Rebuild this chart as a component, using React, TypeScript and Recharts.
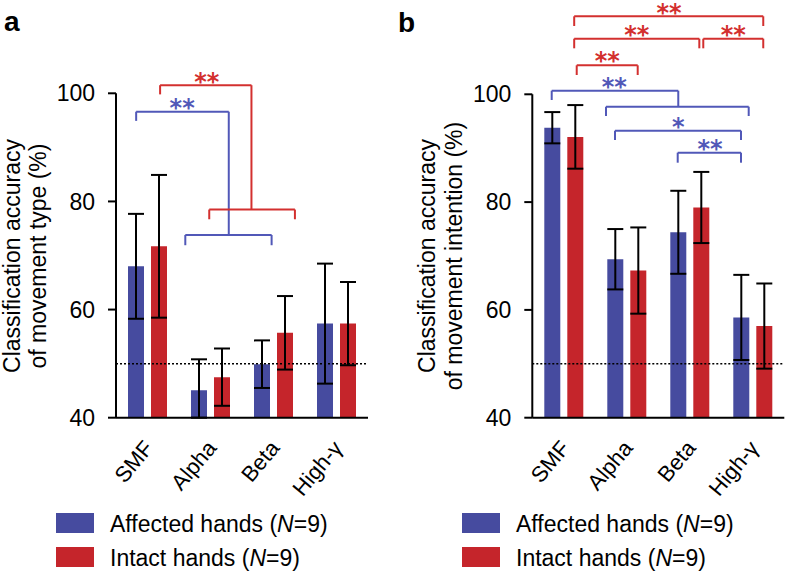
import React from "react"
import {
  Bar,
  BarChart,
  ErrorBar,
  ReferenceDot,
  ReferenceLine,
  XAxis,
  YAxis,
} from "recharts"

const categories = ["SMF", "Alpha", "Beta", "High-γ"]
const categoryPos = [0.5, 1.5, 2.5, 3.5]
const yTicks = [40, 60, 80, 100]

// panel a: movement type
const typeAffected = [68.0, 45.1, 49.9, 57.4]
const typeAffectedErr: (number | number[])[] = [9.7, [5.1, 5.7], 4.4, 11.1]
const typeIntact = [71.7, 47.5, 55.7, 57.4]
const typeIntactErr = [13.2, 5.3, 6.8, 7.7]

// panel b: movement intention
const intentAffected = [93.8, 69.4, 74.4, 58.6]
const intentAffectedErr = [2.9, 5.6, 7.7, 7.9]
const intentIntact = [92.1, 67.3, 79.0, 57.0]
const intentIntactErr = [5.9, 8.0, 6.6, 7.9]

const BLUE = "#464b9f"
const RED = "#c5252b"
const BLUE_LINE = "#5158b8"
const RED_LINE = "#d3302f"
const FONT = "'Liberation Sans', Arial, Helvetica, sans-serif"

// significance brackets, x in category units (0..4), y in % units
type Bracket = { c: string; x1: number; x2: number; y: number; d1: number; d2: number }
type Star = { c: string; x: number; y: number; t: string }

const bracketsA: Bracket[] = [
  { c: BLUE_LINE, x1: 0.32, x2: 1.79, y: 96.6, d1: 94.9, d2: 73.8 },
  { c: BLUE_LINE, x1: 1.1, x2: 2.47, y: 73.8, d1: 71.9, d2: 71.9 },
  { c: RED_LINE, x1: 0.7, x2: 2.15, y: 101.5, d1: 99.8, d2: 78.5 },
  { c: RED_LINE, x1: 1.48, x2: 2.84, y: 78.5, d1: 76.7, d2: 76.7 },
]
const starsA: Star[] = [
  { c: BLUE_LINE, x: 1.05, y: 98.4, t: "**" },
  { c: RED_LINE, x: 1.44, y: 103.2, t: "**" },
]

const bracketsB: Bracket[] = [
  { c: RED_LINE, x1: 0.665, x2: 3.666, y: 114.47, d1: 112.67, d2: 112.67 },
  { c: RED_LINE, x1: 0.665, x2: 2.651, y: 110.32, d1: 108.53, d2: 108.53 },
  { c: RED_LINE, x1: 2.714, x2: 3.666, y: 110.32, d1: 108.53, d2: 108.53 },
  { c: RED_LINE, x1: 0.705, x2: 1.673, y: 105.38, d1: 103.58, d2: 103.58 },
  { c: BLUE_LINE, x1: 0.308, x2: 2.317, y: 100.67, d1: 98.94, d2: 97.7 },
  { c: BLUE_LINE, x1: 1.17, x2: 3.435, y: 97.7, d1: 95.97, d2: 95.97 },
  { c: BLUE_LINE, x1: 1.313, x2: 3.313, y: 93.25, d1: 91.52, d2: 91.52 },
  { c: BLUE_LINE, x1: 2.308, x2: 3.313, y: 89.17, d1: 87.31, d2: 87.31 },
]
const starsB: Star[] = [
  { c: RED_LINE, x: 2.17, y: 116.25, t: "**" },
  { c: RED_LINE, x: 1.66, y: 112.1, t: "**" },
  { c: RED_LINE, x: 3.19, y: 112.1, t: "**" },
  { c: RED_LINE, x: 1.19, y: 107.2, t: "**" },
  { c: BLUE_LINE, x: 1.3, y: 102.5, t: "**" },
  { c: BLUE_LINE, x: 2.317, y: 95.1, t: "*" },
  { c: BLUE_LINE, x: 2.82, y: 90.9, t: "**" },
]

const buildData = (aff: number[], affErr: any[], int: number[], intErr: any[]) =>
  categories.map((name, i) => ({
    name,
    pos: categoryPos[i],
    affected: aff[i],
    affectedErr: affErr[i],
    intact: int[i],
    intactErr: intErr[i],
  }))

const XTick = ({ x, y, payload }: any) => (
  <g transform={`translate(${x + 7},${y + 31})`}>
    <text
      transform="rotate(-50)"
      textAnchor="end"
      fontSize={22}
      fontFamily={FONT}
      fill="#000"
    >
      {payload.value}
    </text>
  </g>
)

const YLabel = ({ lines, xs }: { lines: string[]; xs: number[] }) => {
  const cy = 256
  return (
    <g>
      {lines.map((l, i) => (
        <text
          key={i}
          transform={`translate(${xs[i]},${cy}) rotate(-90)`}
          textAnchor="middle"
          fontSize={23}
          fontFamily={FONT}
          fill="#000"
        >
          {l}
        </text>
      ))}
    </g>
  )
}

function Panel({
  data,
  left,
  width,
  yAxisWidth,
  right,
  top,
  labelLines,
  labelXs,
  brackets,
  stars,
}: any) {
  return (
    <div style={{ position: "absolute", left, top: 0 }}>
      <BarChart
        width={width}
        height={573}
        data={data}
        margin={{ top, right, bottom: 125.3, left: 0 }}
        barSize={16}
        barGap={7}
      >
        <XAxis
          xAxisId="cat"
          dataKey="name"
          height={30}
          tickLine={false}
          tickSize={0}
          tickMargin={0}
          axisLine={{ stroke: "#000", strokeWidth: 2 }}
          tick={<XTick />}
          interval={0}
        />
        <XAxis
          xAxisId="num"
          dataKey="pos"
          type="number"
          domain={[0, 4]}
          hide
          allowDataOverflow
        />
        <YAxis
          domain={[40, 100]}
          ticks={yTicks}
          allowDataOverflow
          width={yAxisWidth}
          tickSize={8}
          tickMargin={13}
          axisLine={{ stroke: "#000", strokeWidth: 2 }}
          tickLine={{ stroke: "#000", strokeWidth: 2 }}
          tick={{ fill: "#000", fontSize: 23, fontFamily: FONT }}
          label={<YLabel lines={labelLines} xs={labelXs} />}
        />
        <Bar xAxisId="cat" dataKey="affected" fill={BLUE} isAnimationActive={false}>
          <ErrorBar dataKey="affectedErr" width={8} strokeWidth={2} stroke="#000" direction="y" />
        </Bar>
        <Bar xAxisId="cat" dataKey="intact" fill={RED} isAnimationActive={false}>
          <ErrorBar dataKey="intactErr" width={8} strokeWidth={2} stroke="#000" direction="y" />
        </Bar>
        <ReferenceLine
          xAxisId="num"
          y={50}
          stroke="#000"
          strokeWidth={1.5}
          strokeDasharray="2 2"
          ifOverflow="visible"
        />
        {brackets.map((b: Bracket, i: number) => [
          <ReferenceLine
            key={`l${i}`}
            xAxisId="num"
            segment={[{ x: b.x1, y: b.d1 }, { x: b.x1, y: b.y }]}
            stroke={b.c}
            strokeWidth={2}
            ifOverflow="visible"
          />,
          <ReferenceLine
            key={`h${i}`}
            xAxisId="num"
            segment={[{ x: b.x1, y: b.y }, { x: b.x2, y: b.y }]}
            stroke={b.c}
            strokeWidth={2}
            ifOverflow="visible"
          />,
          <ReferenceLine
            key={`r${i}`}
            xAxisId="num"
            segment={[{ x: b.x2, y: b.y }, { x: b.x2, y: b.d2 }]}
            stroke={b.c}
            strokeWidth={2}
            ifOverflow="visible"
          />,
        ])}
        {stars.map((s: Star, i: number) => (
          <ReferenceDot
            key={`s${i}`}
            xAxisId="num"
            x={s.x}
            y={s.y}
            r={0}
            ifOverflow="visible"
            shape={(p: any) => (
              <text
                x={p.cx}
                y={p.cy + 14}
                textAnchor="middle"
                fontSize={24}
                fontWeight="bold"
                fontFamily="'DejaVu Sans', sans-serif"
                fill={s.c}
              >
                {s.t}
              </text>
            )}
          />
        ))}
      </BarChart>
    </div>
  )
}

const LegendBox = ({ left, textLeft }: { left: number; textLeft: number }) => (
  <>
    {[
      { c: BLUE, t: "Affected hands", top: 513 },
      { c: RED, t: "Intact hands", top: 547 },
    ].map((r) => (
      <div key={r.t}>
        <div
          style={{ position: "absolute", left, top: r.top, width: 38, height: 20, background: r.c }}
        />
        <div
          style={{
            position: "absolute",
            left: textLeft,
            top: r.top,
            fontSize: 23,
            lineHeight: "23px",
            fontFamily: FONT,
            whiteSpace: "nowrap",
          }}
        >
          {r.t} (<i>N</i>=9)
        </div>
      </div>
    ))}
  </>
)

export default function App() {
  const dataA = buildData(typeAffected, typeAffectedErr, typeIntact, typeIntactErr)
  const dataB = buildData(intentAffected, intentAffectedErr, intentIntact, intentIntactErr)

  return (
    <div
      style={{
        position: "absolute",
        left: 0,
        top: 0,
        width: 787,
        height: 573,
        background: "#fff",
        fontFamily: FONT,
        overflow: "hidden",
      }}
    >
      <Panel
        data={dataA}
        left={0}
        width={390}
        yAxisWidth={116}
        right={22}
        top={93.3}
        labelLines={["Classification accuracy", "of movement type (%)"]}
        labelXs={[20, 46]}
        brackets={bracketsA}
        stars={starsA}
      />
      <Panel
        data={dataB}
        left={400}
        width={387}
        yAxisWidth={132.3}
        right={2.7}
        top={94.3}
        labelLines={["Classification accuracy", "of movement intention (%)"]}
        labelXs={[35, 61.5]}
        brackets={bracketsB}
        stars={starsB}
      />
      <div style={{ position: "absolute", left: 4, top: 8, fontSize: 28, lineHeight: "28px", fontWeight: "bold" }}>
        a
      </div>
      <div style={{ position: "absolute", left: 398, top: 9, fontSize: 28, lineHeight: "28px", fontWeight: "bold" }}>
        b
      </div>
      <LegendBox left={56} textLeft={110} />
      <LegendBox left={462} textLeft={516} />
    </div>
  )
}
